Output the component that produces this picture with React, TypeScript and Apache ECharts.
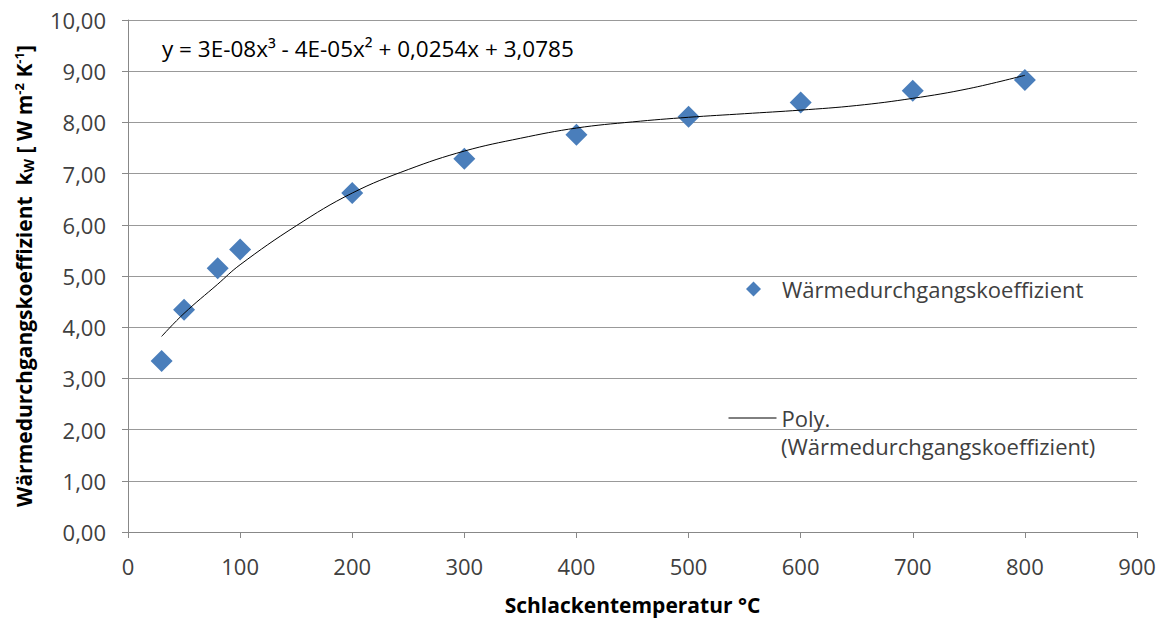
import React, { useEffect, useRef } from "react";
import * as echarts from "echarts";

const SERIES_NAME = "Wärmedurchgangskoeffizient";
const TREND_NAME = "Poly.";
const TREND_NAME_2 = "(Wärmedurchgangskoeffizient)";
const EQUATION = "y = 3E-08x³ - 4E-05x² + 0,0254x + 3,0785";

const temperatures = [30, 50, 80, 100, 200, 300, 400, 500, 600, 700, 800];
const kValues = [3.34, 4.34, 5.15, 5.52, 6.62, 7.29, 7.76, 8.11, 8.39, 8.62, 8.83];

const trendX = [30, 50, 80, 100, 150, 200, 250, 300, 350, 400, 450, 500, 550, 600, 650, 700, 750, 800];
const trendY = [3.82, 4.27, 4.84, 5.22, 5.98, 6.62, 7.08, 7.44, 7.69, 7.89, 8.01, 8.1, 8.17, 8.24, 8.33, 8.47, 8.66, 8.92];

const FONT = "'Open Sans', sans-serif";
const TXT = "#404040";

export default function App() {
  const ref = useRef<HTMLDivElement>(null);
  useEffect(() => {
    document.body.style.margin = "0";
    const chart = echarts.init(ref.current!, null, { renderer: "svg" });
    chart.setOption({
      animation: false,
      backgroundColor: "#ffffff",
      textStyle: { fontFamily: FONT },
      grid: { left: 128, right: 30, top: 20, bottom: 91, containLabel: false },
      xAxis: {
        type: "value",
        min: 0,
        max: 900,
        interval: 100,
        name: "Schlackentemperatur °C",
        nameLocation: "middle",
        nameGap: 62,
        nameTextStyle: { fontFamily: FONT, fontSize: 21, fontWeight: "bold", color: "#000" },
        axisLine: { show: true, lineStyle: { color: "#888", width: 1 } },
        axisTick: { show: true, inside: false, length: 6, lineStyle: { color: "#888" } },
        axisLabel: { fontFamily: FONT, fontSize: 22, color: TXT, margin: 23 },
        splitLine: { show: false },
      },
      yAxis: {
        type: "value",
        min: 0,
        max: 10,
        interval: 1,
        name: "{b|Wärmedurchgangskoeffizient  k}{sub|W}{b| [ W m}{sup|-2}{b| K}{sup|-1}{b|]}",
        nameLocation: "middle",
        nameRotate: 90,
        nameGap: 93,
        nameTextStyle: {
          fontFamily: FONT,
          color: "#000",
          rich: {
            b: { fontFamily: FONT, fontSize: 21, fontWeight: "bold", color: "#000" },
            sub: { fontFamily: FONT, fontSize: 14, fontWeight: "bold", color: "#000", verticalAlign: "bottom", padding: [9, 0, 0, 0] },
            sup: { fontFamily: FONT, fontSize: 13, fontWeight: "bold", color: "#000", verticalAlign: "top", padding: [0, 0, 9, 0] },
          },
        },
        axisLine: { show: true, lineStyle: { color: "#888", width: 1 } },
        axisTick: { show: true, inside: false, length: 6, lineStyle: { color: "#888" } },
        axisLabel: {
          fontFamily: FONT,
          fontSize: 22,
          color: TXT,
          margin: 22,
          formatter: (v: number) => v.toFixed(2).replace(".", ","),
        },
        splitLine: { show: true, lineStyle: { color: "#999", width: 1 } },
      },
      legend: [
        {
          data: [{ name: SERIES_NAME, icon: "diamond" }],
          left: 741,
          top: 273,
          orient: "vertical",
          itemWidth: 15,
          itemHeight: 15,
          itemStyle: { opacity: 1 },
          textStyle: { fontFamily: FONT, fontSize: 22, color: TXT, padding: [0, 0, 0, 16] },
        },
        {
          data: [{ name: TREND_NAME }],
          left: 723,
          top: 401,
          orient: "vertical",
          itemWidth: 48,
          itemHeight: 16,
          itemStyle: { color: "rgba(0,0,0,0)", borderWidth: 0, opacity: 0 },
          lineStyle: { color: "#000", width: 1, opacity: 1 },
          textStyle: { fontFamily: FONT, fontSize: 22, lineHeight: 24, color: TXT },
        },
      ],
      graphic: [
        {
          type: "text",
          left: 781,
          top: 434,
          style: { text: TREND_NAME_2, fontFamily: FONT, fontSize: 22, lineHeight: 24, fill: TXT },
        },
        {
          type: "text",
          left: 162,
          top: 37,
          style: { text: EQUATION, fontFamily: FONT, fontSize: 22.5, fill: "#000" },
        },
      ],
      series: [
        {
          name: TREND_NAME,
          type: "line",
          data: trendX.map((x, i) => [x, trendY[i]]),
          smooth: 0.4,
          symbol: "none",
          showSymbol: false,
          lineStyle: { color: "#000", width: 1 },
          itemStyle: { color: "#000" },
          z: 3,
        },
        {
          name: SERIES_NAME,
          type: "scatter",
          data: temperatures.map((x, i) => [x, kValues[i]]),
          symbol: "diamond",
          symbolSize: 22,
          itemStyle: { color: "#4A7EBB", opacity: 1 },
          z: 2,
        },
      ],
    });
    return () => chart.dispose();
  }, []);
  return <div ref={ref} style={{ width: 1167, height: 623 }} />;
}
